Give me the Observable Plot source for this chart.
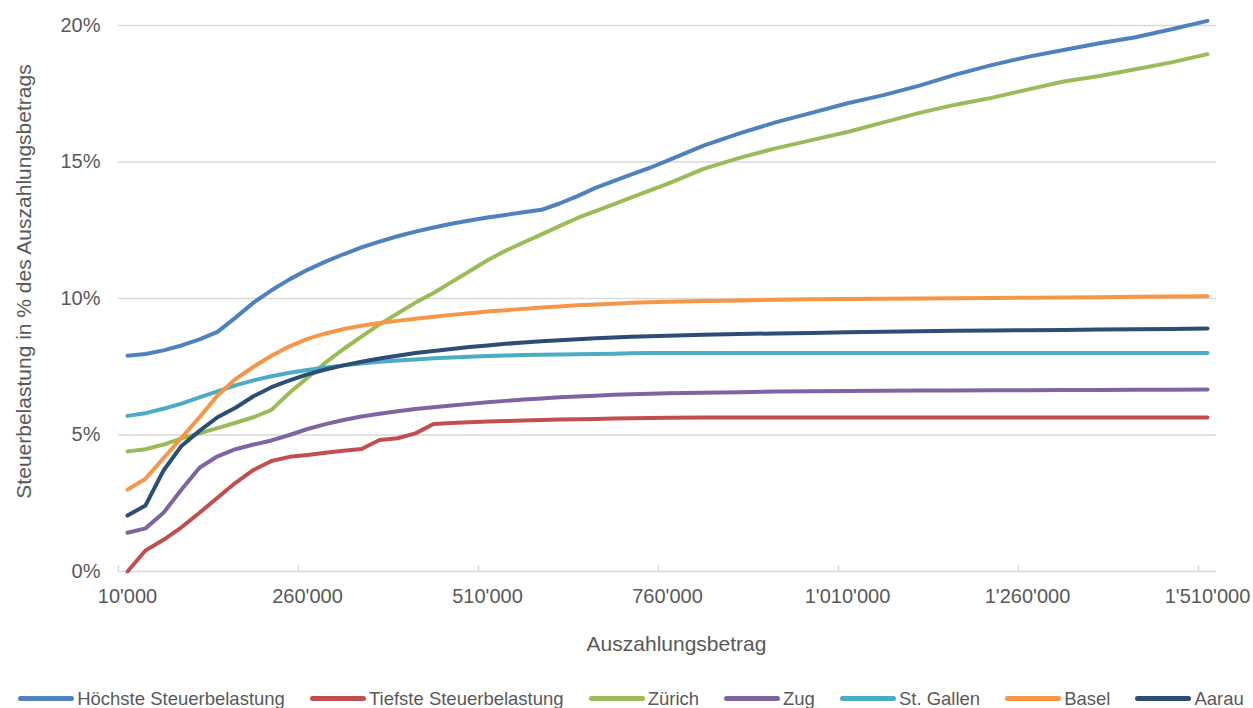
<!DOCTYPE html>
<html>
<head>
<meta charset="utf-8">
<script src="https://cdn.jsdelivr.net/npm/d3@7"></script>
<script src="https://cdn.jsdelivr.net/npm/@observablehq/plot@0.6"></script>
<style>
  html, body { margin: 0; padding: 0; background: #fff; }
  body { width: 1253px; height: 708px; overflow: hidden; font-family: "Liberation Sans", Arial, sans-serif; color: #595959; }
  #legend { display: flex; justify-content: center; gap: 25px; font-size: 18.5px; line-height: 24px; height: 24px; margin-top: 3px; padding-left: 9px; white-space: nowrap; }
  #legend .item { display: flex; align-items: center; gap: 3px; }
  #legend .sw { width: 56px; height: 5px; border-radius: 3px; display: inline-block; margin-top: -2px; }
</style>
</head>
<body>
<div id="chart"></div>
<div id="legend"></div>
<script>
// x categories (Auszahlungsbetrag, CHF)
const amounts = [10000,35000,60000,85000,110000,135000,160000,185000,210000,235000,260000,285000,310000,335000,360000,385000,410000,435000,460000,485000,510000,535000,560000,585000,610000,635000,660000,685000,710000,735000,760000,810000,860000,910000,960000,1010000,1060000,1110000,1160000,1210000,1260000,1310000,1360000,1410000,1460000,1510000];
const xLabelTicks = [10000,260000,510000,760000,1010000,1260000,1510000];
const yTicks = [0,5,10,15,20];

const seriesNames = ["Höchste Steuerbelastung","Tiefste Steuerbelastung","Zürich","Zug","St. Gallen","Basel","Aarau"];
const seriesColors = ["#4f81bd","#c0504d","#9bbb59","#8064a2","#4bacc6","#f79646","#2c4d75"];

// values in % of Auszahlungsbetrag
const hoechste = [7.9,7.97,8.1,8.28,8.5,8.78,9.3,9.85,10.3,10.7,11.05,11.35,11.62,11.87,12.08,12.28,12.45,12.6,12.74,12.86,12.97,13.06,13.16,13.25,13.48,13.75,14.05,14.3,14.55,14.78,15.05,15.6,16.05,16.45,16.8,17.15,17.45,17.8,18.2,18.55,18.85,19.1,19.35,19.57,19.86,20.17];
const tiefste = [0.0,0.77,1.16,1.62,2.15,2.7,3.25,3.72,4.05,4.2,4.27,4.35,4.42,4.49,4.82,4.88,5.06,5.4,5.44,5.47,5.49,5.51,5.53,5.55,5.57,5.58,5.59,5.6,5.61,5.62,5.63,5.64,5.64,5.64,5.64,5.64,5.64,5.64,5.64,5.64,5.64,5.64,5.64,5.64,5.64,5.64];
const zuerich = [4.4,4.48,4.65,4.88,5.06,5.25,5.45,5.65,5.92,6.55,7.1,7.65,8.15,8.6,9.05,9.45,9.85,10.2,10.6,11.0,11.4,11.75,12.05,12.35,12.65,12.95,13.2,13.45,13.7,13.95,14.2,14.75,15.15,15.5,15.8,16.1,16.45,16.8,17.1,17.35,17.65,17.95,18.15,18.4,18.65,18.95];
const zug = [1.42,1.58,2.15,3.0,3.8,4.22,4.48,4.65,4.8,5.0,5.22,5.4,5.55,5.68,5.78,5.87,5.95,6.02,6.08,6.14,6.2,6.25,6.3,6.34,6.38,6.41,6.44,6.47,6.49,6.51,6.53,6.55,6.57,6.59,6.6,6.61,6.62,6.63,6.63,6.64,6.64,6.65,6.65,6.66,6.66,6.67];
const stGallen = [5.7,5.8,5.96,6.15,6.38,6.6,6.82,7.0,7.15,7.28,7.38,7.47,7.55,7.62,7.68,7.73,7.77,7.81,7.84,7.87,7.89,7.91,7.93,7.94,7.95,7.96,7.97,7.98,7.99,8.0,8.0,8.0,8.0,8.0,8.0,8.0,8.0,8.0,8.0,8.0,8.0,8.0,8.0,8.0,8.0,8.0];
const basel = [3.0,3.4,4.15,4.9,5.65,6.45,7.05,7.5,7.9,8.25,8.52,8.72,8.88,9.0,9.1,9.18,9.26,9.33,9.4,9.46,9.52,9.57,9.62,9.67,9.71,9.75,9.78,9.81,9.84,9.86,9.88,9.91,9.93,9.95,9.97,9.98,9.99,10.0,10.01,10.02,10.03,10.04,10.05,10.06,10.07,10.08];
const aarau = [2.05,2.42,3.7,4.6,5.15,5.65,6.0,6.42,6.75,7.0,7.22,7.4,7.55,7.68,7.8,7.9,8.0,8.08,8.15,8.22,8.28,8.34,8.39,8.43,8.47,8.51,8.54,8.57,8.6,8.62,8.64,8.67,8.7,8.72,8.74,8.76,8.78,8.8,8.82,8.83,8.84,8.85,8.86,8.87,8.88,8.9];

const seriesValues = [hoechste, tiefste, zuerich, zug, stGallen, basel, aarau];
const rows = seriesNames.flatMap((name, k) => seriesValues[k].map((v, i) => ({amount: amounts[i], value: v, series: name})));

// category step (x axis is a category axis in the original: one slot per amount)
const step = amounts[1] - amounts[0];
const xDomain = [amounts[0] - step / 2, amounts[amounts.length - 1] + step / 2];
const tickBounds = xLabelTicks.map(d => d - step / 2);

const fmt = d3.formatLocale({decimal: ".", thousands: "'", grouping: [3], currency: ["", ""]}).format(",");

const chart = Plot.plot({
  width: 1253,
  height: 684,
  marginLeft: 118,
  marginRight: 37,
  marginTop: 25,
  marginBottom: 113,
  style: {fontFamily: "'Liberation Sans', Arial, sans-serif", color: "#595959", background: "#fff", overflow: "visible"},
  x: {type: "linear", domain: xDomain, axis: null},
  y: {type: "linear", domain: [0, 20], axis: null},
  color: {domain: seriesNames, range: seriesColors},
  marks: [
    Plot.ruleY(yTicks.filter(d => d > 0), {stroke: "#d9d9d9", strokeWidth: 1.3}),
    Plot.ruleY([0], {stroke: "#d9d9d9", strokeWidth: 1.6}),
    Plot.tickX(tickBounds, {x: d => d, stroke: "#d9d9d9", strokeWidth: 1.3, insetTop: 540}),
    Plot.axisX({ticks: xLabelTicks, tickSize: 0, tickPadding: 17, tickFormat: fmt, fontSize: 20, label: null}),
    Plot.axisY({ticks: yTicks, tickSize: 0, tickPadding: 18, tickFormat: d => d + "%", fontSize: 20, label: null}),
    Plot.line(rows, {x: "amount", y: "value", z: "series", stroke: "series", strokeWidth: 4, strokeLinejoin: "round", strokeLinecap: "round"}),
    Plot.text(["Steuerbelastung in % des Auszahlungsbetrags"], {frameAnchor: "left", textAnchor: "middle", lineAnchor: "middle", rotate: -90, dx: -94, dy: -17, fontSize: 21, fill: "#595959"}),
    Plot.text(["Auszahlungsbetrag"], {frameAnchor: "bottom", lineAnchor: "top", dy: 65, dx: 9, fontSize: 21, fill: "#595959"})
  ]
});
document.getElementById("chart").appendChild(chart);

const legend = document.getElementById("legend");
seriesNames.forEach((name, k) => {
  const item = document.createElement("div");
  item.className = "item";
  const sw = document.createElement("span");
  sw.className = "sw";
  sw.style.background = seriesColors[k];
  const t = document.createElement("span");
  t.textContent = name;
  item.appendChild(sw);
  item.appendChild(t);
  legend.appendChild(item);
});
</script>
</body>
</html>
